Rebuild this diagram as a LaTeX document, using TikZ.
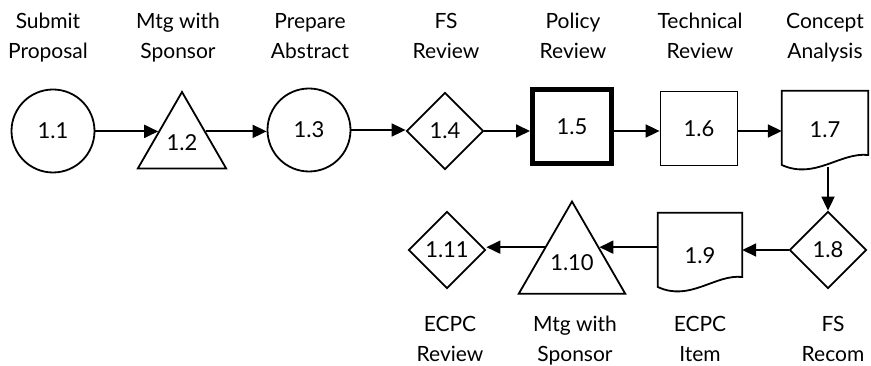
\documentclass[tikz,border=0pt]{standalone}
\usepackage{fontspec}
\setmainfont{Lato}
\usetikzlibrary{arrows.meta,shapes.geometric,calc}
\tikzset{
  shp/.style={draw, line width=1.8pt, inner sep=0pt, font=\fontsize{22}{24}\selectfont},
  circ/.style={shp, circle, minimum size=83pt},
  tri/.style={shp, regular polygon, regular polygon sides=3, minimum size=102pt},
  dia/.style={shp, diamond, minimum width=77pt, minimum height=77pt},
  sq/.style={shp, rectangle, minimum width=77pt, minimum height=74pt},
  docbox/.style={inner sep=0pt, font=\fontsize{22}{24}\selectfont},
  docline/.style={line width=1.8pt},
  lbl/.style={inner sep=0pt, align=center, font=\fontsize{21}{30}\selectfont},
  arr/.style={line width=1.8pt, -{Triangle[length=14pt,width=13pt]}},
}
\begin{document}
\begin{tikzpicture}[x=1pt,y=-1pt]
\useasboundingbox (0,0) rectangle (871,366);
% row 1
\node[circ] (n11) at (53,131) {1.1};
\node[tri] (n12) at (182,143) {1.2};
\node[circ] (n13) at (309,130) {1.3};
\node[dia] (n14) at (445,131) {1.4};
\node[sq, line width=5pt, minimum width=79pt, minimum height=74pt] (n15) at (572,127) {1.5};
\node[sq] (n16) at (699,128.5) {1.6};
\node[docbox, minimum width=86pt, minimum height=78pt] (n17) at (825,130) {1.7};
\draw[docline] (n17.north west) -- (n17.north east) -- (n17.east |- 0,155)
  .. controls (840,152) and (815,180) .. (n17.west |- 0,165) -- cycle;
% row 2
\node[dia] (n18) at (828,250) {1.8};
\node[docbox, minimum width=84pt, minimum height=86pt] (n19) at (700,256) {1.9};
\draw[docline] (n19.north west) -- (n19.north east) -- (n19.east |- 0,277)
  .. controls (715,274) and (690,302) .. (n19.west |- 0,287) -- cycle;
\node[tri] (n110) at (572,263) {1.10};
\node[dia] (n111) at (447,250) {1.11};
% edge points on triangles
\coordinate (t12l) at ($(n12.corner 1)!0.52!(n12.corner 2)$);
\coordinate (t12r) at ($(n12.corner 1)!0.52!(n12.corner 3)$);
\coordinate (t110l) at ($(n110.corner 1)!0.50!(n110.corner 2)$);
\coordinate (t110r) at ($(n110.corner 1)!0.50!(n110.corner 3)$);
\coordinate (d17) at (828,167);
% connectors
\draw[arr] (n11.east |- t12l) -- (t12l);
\draw[arr] (t12r) -- (t12r -| n13.west);
\draw[arr] (n13.east) -- (n13.east -| n14.west);
\draw[arr] (n14.east) -- (n14.east -| n15.west);
\draw[arr] (n15.east |- n14.east) -- (n14.east -| n16.west);
\draw[arr] (n16.east |- n14.east) -- (n14.east -| n17.west);
\draw[arr] (d17) -- (n18.north);
\draw[arr] (n18.west) -- (n18.west -| n19.east);
\draw[arr] (n19.west |- t110r) -- (t110r);
\draw[arr] (t110l) -- (t110l -| n111.east);
% labels
\node[lbl, anchor=base] (l11) at (48,59) {Submit\\Proposal};
\node[lbl, anchor=base] (l12) at (178,59) {Mtg with\\Sponsor};
\node[lbl, anchor=base] (l13) at (310,59) {Prepare\\Abstract};
\node[lbl, anchor=base] (l14) at (446,59) {FS\\Review};
\node[lbl, anchor=base] (l15) at (573,59) {Policy\\Review};
\node[lbl, anchor=base] (l16) at (700,59) {Technical\\Review};
\node[lbl, anchor=base] (l17) at (825,59) {Concept\\Analysis};
\node[lbl, anchor=base] (l111) at (450,362) {ECPC\\Review};
\node[lbl, anchor=base] (l110) at (575,362) {Mtg with\\Sponsor};
\node[lbl, anchor=base] (l19) at (700,362) {ECPC\\Item};
\node[lbl, anchor=base] (l18) at (833,362) {FS\\Recom};
\end{tikzpicture}
\end{document}
